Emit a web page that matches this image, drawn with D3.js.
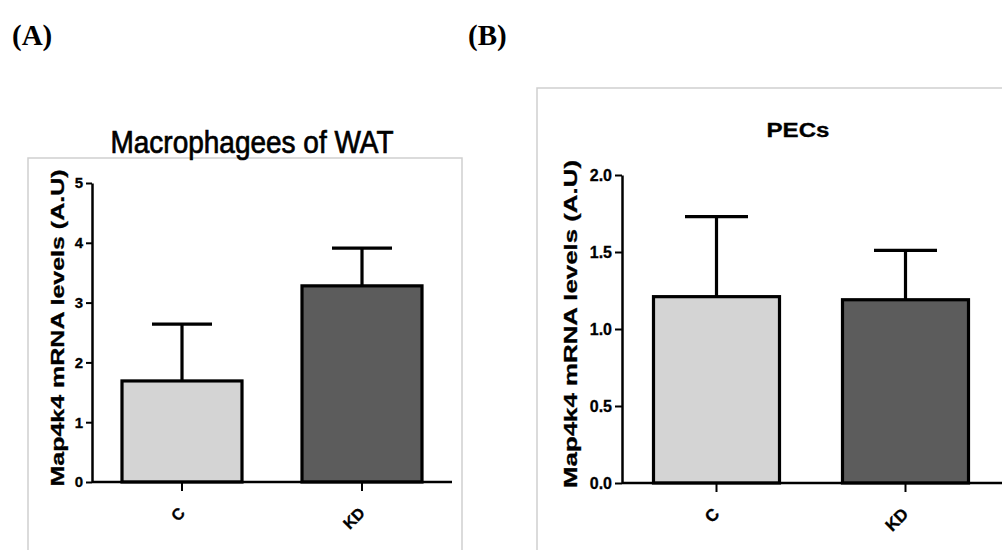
<!DOCTYPE html>
<html>
<head>
<meta charset="utf-8">
<script src="https://cdn.jsdelivr.net/npm/d3@7/dist/d3.min.js"></script>
<style>
  html, body { margin: 0; padding: 0; background: #fff; }
  svg { display: block; }
  text { font-family: "Liberation Sans", Arial, sans-serif; }
</style>
</head>
<body>
<svg id="fig" width="1002" height="550"></svg>
<script>
// Groups shown in both panels
const categories = ["C", "KD"];

// Panel A: macrophages of white adipose tissue (mean and SEM)
const watMean = [1.69, 3.28];
const watSem  = [0.95, 0.63];
const watTicks = [0, 1, 2, 3, 4, 5];

// Panel B: peritoneal exudate cells (mean and SEM)
const pecMean = [1.21, 1.19];
const pecSem  = [0.52, 0.32];
const pecTicks = [0, 0.5, 1.0, 1.5, 2.0];

const barFill = ["#d4d4d4", "#5c5c5c"];
const yLabel = "Map4k4 mRNA levels (A.U)";

const svg = d3.select("#fig");

function panel(cfg) {
  const g = svg.append("g");

  // frame around the panel
  g.append("rect")
    .attr("x", cfg.frame[0]).attr("y", cfg.frame[1])
    .attr("width", cfg.frame[2]).attr("height", cfg.frame[3])
    .attr("fill", "none").attr("stroke", "#cfcfcf").attr("stroke-width", 1.5);

  const x = d3.scaleBand().domain(categories).range(cfg.xRange)
    .paddingInner(1 / 3).paddingOuter(1 / 6);
  const y = d3.scaleLinear().domain(cfg.yDomain).range(cfg.yRange);

  // bars
  g.selectAll("rect.bar").data(categories).join("rect")
    .attr("class", "bar")
    .attr("x", d => x(d))
    .attr("width", x.bandwidth())
    .attr("y", (d, i) => y(cfg.mean[i]))
    .attr("height", (d, i) => y(0) - y(cfg.mean[i]))
    .attr("fill", (d, i) => barFill[i])
    .attr("stroke", "#000").attr("stroke-width", 3.2);

  // upper error bars
  const eb = g.selectAll("g.err").data(categories).join("g").attr("class", "err");
  eb.append("line")
    .attr("x1", d => x(d) + x.bandwidth() / 2)
    .attr("x2", d => x(d) + x.bandwidth() / 2)
    .attr("y1", (d, i) => y(cfg.mean[i]))
    .attr("y2", (d, i) => y(cfg.mean[i] + cfg.sem[i]))
    .attr("stroke", "#000").attr("stroke-width", 3.2);
  eb.append("line")
    .attr("x1", d => x(d) + x.bandwidth() / 4)
    .attr("x2", d => x(d) + x.bandwidth() * 3 / 4)
    .attr("y1", (d, i) => y(cfg.mean[i] + cfg.sem[i]))
    .attr("y2", (d, i) => y(cfg.mean[i] + cfg.sem[i]))
    .attr("stroke", "#000").attr("stroke-width", 3.2);

  // y axis
  const ya = g.append("g")
    .attr("transform", `translate(${cfg.xRange[0]},0)`)
    .call(d3.axisLeft(y).tickValues(cfg.ticks).tickFormat(cfg.fmt)
      .tickSize(cfg.yTickSize).tickSizeOuter(0).tickPadding(3));
  ya.select(".domain").attr("stroke", "#000").attr("stroke-width", 2.5);
  ya.selectAll(".tick line").attr("stroke", "#000").attr("stroke-width", 2);
  ya.selectAll(".tick text")
    .attr("fill", "#000")
    .attr("stroke", "#000").attr("stroke-width", 0.3)
    .style("font-size", cfg.tickFont + "px").style("font-weight", "bold")
    .style("font-family", "'Liberation Sans', Arial, sans-serif");

  // x axis
  const xa = g.append("g")
    .attr("transform", `translate(0,${y(0)})`)
    .call(d3.axisBottom(x).tickSize(9).tickSizeOuter(0));
  xa.select(".domain").attr("stroke", "#000").attr("stroke-width", 2.5)
    .attr("d", `M${cfg.xRange[0]},0H${cfg.xAxisEnd}`);
  xa.selectAll(".tick line").attr("stroke", "#000").attr("stroke-width", 2);
  xa.selectAll(".tick text")
    .attr("x", 4).attr("y", 32).attr("dy", 0)
    .attr("text-anchor", "end")
    .attr("transform", "rotate(-45,4,32)")
    .attr("fill", "#000")
    .attr("stroke", "#000").attr("stroke-width", 0.3)
    .style("font-size", cfg.xFont + "px").style("font-weight", "bold")
    .style("font-family", "'Liberation Sans', Arial, sans-serif");

  // y axis title
  g.append("text")
    .attr("transform", `translate(${cfg.yLabelPos[0]},${cfg.yLabelPos[1]}) rotate(-90)`)
    .attr("text-anchor", "middle")
    .attr("dominant-baseline", "central")
    .attr("textLength", cfg.yLabelLen).attr("lengthAdjust", "spacingAndGlyphs")
    .attr("stroke", "#000").attr("stroke-width", 0.3)
    .style("font-size", cfg.yLabelFont + "px").style("font-weight", "bold")
    .text(yLabel);

  // panel title
  g.append("text")
    .attr("x", cfg.titlePos[0]).attr("y", cfg.titlePos[1])
    .attr("text-anchor", "middle")
    .attr("textLength", cfg.titleLen).attr("lengthAdjust", "spacingAndGlyphs")
    .attr("stroke", "#000").attr("stroke-width", cfg.titleStroke)
    .style("font-size", cfg.titleFont + "px")
    .style("font-weight", cfg.titleWeight)
    .text(cfg.title);

  // panel letter
  g.append("text")
    .attr("x", cfg.letterPos[0]).attr("y", cfg.letterPos[1])
    .style("font-family", "'Liberation Serif', 'Times New Roman', serif")
    .style("font-size", "29px").style("font-weight", "bold")
    .text(cfg.letter);
}

panel({
  letter: "(A)", letterPos: [12, 45],
  frame: [28, 158, 434, 400],
  xRange: [92, 452], xAxisEnd: 452,
  yDomain: [0, 5], yRange: [482, 183],
  mean: watMean, sem: watSem, ticks: watTicks, fmt: d3.format("d"),
  yTickSize: 6, tickFont: 15, xFont: 16,
  yLabelPos: [58, 328], yLabelLen: 317, yLabelFont: 18,
  title: "Macrophagees of WAT", titlePos: [252, 153], titleLen: 283,
  titleFont: 31, titleWeight: "normal", titleStroke: 0.7
});

panel({
  letter: "(B)", letterPos: [468, 45],
  frame: [537, 88, 480, 470],
  xRange: [622, 1000], xAxisEnd: 1004,
  yDomain: [0, 2], yRange: [483, 175],
  mean: pecMean, sem: pecSem, ticks: pecTicks, fmt: d3.format(".1f"),
  yTickSize: 7, tickFont: 16, xFont: 17,
  yLabelPos: [570, 324], yLabelLen: 328, yLabelFont: 19,
  title: "PECs", titlePos: [798, 137], titleLen: 63,
  titleFont: 20, titleWeight: "bold", titleStroke: 0.3
});
</script>
</body>
</html>
